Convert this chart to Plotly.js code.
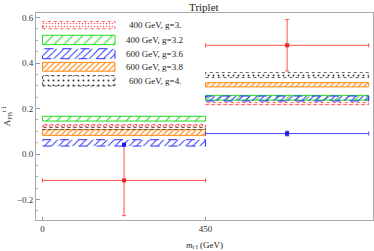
<!DOCTYPE html>
<html><head><meta charset="utf-8">
<script src="https://cdn.plot.ly/plotly-3.0.1.min.js"></script>
<style>html,body{margin:0;padding:0;background:#fff}#plot{width:374px;height:251px}</style>
</head><body><div id="plot"></div>
<script>
// Bins of m_tt (GeV)
const binEdges = [0, 450, 900];
const binCenters = [225, 675];
const binHalfWidths = [225, 225];

// Model predictions (low/high of band) per bin
const modelNames = ["400 GeV, g=3.", "400 GeV, g=3.2", "600 GeV, g=3.6", "600 GeV, g=3.8", "600 GeV, g=4."];
const bandLowBin1  = [0.119, 0.145, 0.035, 0.082, 0.108];
const bandHighBin1 = [0.130, 0.166, 0.063, 0.107, 0.117];
const bandLowBin2  = [0.217, 0.237, 0.233, 0.295, 0.336];
const bandHighBin2 = [0.226, 0.258, 0.255, 0.314, 0.358];

// Legend boxes
const legendX = [0, 200];
const legendLow  = [0.551, 0.481, 0.419, 0.364, 0.299];
const legendHigh = [0.583, 0.522, 0.463, 0.403, 0.345];
const legendLabelX = 310;

// Measurements
const redY = [-0.116, 0.478];
const redYErr = [0.155, 0.113];
const blueY = [0.041, 0.090];
const blueYErr = [0, 0.010];
const blueXErr = [0, 225];

const xTicks = [0, 450];

const styles = [
  {color:'#ff5a5a', shape:'.', size:3, sol:0.2, dash:'dot', w:1},
  {color:'#22dd22', shape:'/', size:7, sol:0.15, dash:'solid', w:1},
  {color:'#3030ff', shape:'/', size:5, sol:0.2, dash:'dash', w:1},
  {color:'#ff8c1a', shape:'/', size:4, sol:0.3, dash:'solid', w:1},
  {color:'#333333', shape:'.', size:5, sol:0.12, dash:'dot', w:0.8}
];

function rect(x0, x1, lo, hi) {
  return {x:[x0, x1, x1, x0, x0, null], y:[lo, lo, hi, hi, lo, null]};
}

const traces = [];
modelNames.forEach((name, i) => {
  const parts = [
    rect(legendX[0], legendX[1], legendLow[i], legendHigh[i]),
    rect(binEdges[0], binEdges[1], bandLowBin1[i], bandHighBin1[i]),
    rect(binEdges[1], binEdges[2], bandLowBin2[i], bandHighBin2[i])
  ];
  const s = styles[i];
  traces.push({
    type:'scatter', mode:'lines', name:name,
    x:[].concat(...parts.map(p=>p.x)),
    y:[].concat(...parts.map(p=>p.y)),
    fill:'toself', fillcolor:'rgba(0,0,0,0)',
    fillpattern:{shape:s.shape, fgcolor:s.color, bgcolor:'rgba(0,0,0,0)', size:s.size, solidity:s.sol},
    line:{color:s.color, width:s.w, dash:s.dash},
    hoverinfo:'skip', showlegend:false
  });
});

traces.push({
  type:'scatter', mode:'markers', x:binCenters, y:redY,
  marker:{symbol:'square', size:4, color:'#ee2222'},
  error_x:{type:'data', array:binHalfWidths, color:'#ff5050', thickness:1, width:2},
  error_y:{type:'data', array:redYErr, color:'#ff5050', thickness:1, width:2},
  showlegend:false
});
traces.push({
  type:'scatter', mode:'markers', x:binCenters, y:blueY,
  marker:{symbol:'square', size:4, color:'#1a1aee'},
  error_x:{type:'data', array:blueXErr, color:'#4a4aff', thickness:1, width:2},
  error_y:{type:'data', array:blueYErr, color:'#4a4aff', thickness:1, width:2},
  showlegend:false
});

const annotations = modelNames.map((name, i) => ({
  x:legendLabelX, y:(legendLow[i]+legendHigh[i])/2, xref:'x', yref:'y',
  text:name, showarrow:false, xanchor:'center', yanchor:'middle',
  font:{family:'Liberation Serif', size:9, color:'#222'}
}));

const layout = {
  width:374, height:251,
  margin:{l:36, r:1, t:13, b:31},
  paper_bgcolor:'#fff', plot_bgcolor:'#fff',
  font:{family:'Liberation Serif', size:9, color:'#333'},
  title:{text:'Triplet', x:0.545, xanchor:'center', y:0.985, yanchor:'top', font:{family:'Liberation Serif', size:11, color:'#222'}},
  xaxis:{range:[-18, 912], tickvals:xTicks, ticktext:xTicks.map(String), ticks:'inside', ticklen:3,
    tickcolor:'#999', showline:true, linecolor:'#aaa', mirror:true, showgrid:false, zeroline:false,
    title:{text:'<i>m</i><sub>t t̄</sub> (GeV)', standoff:8, font:{family:'Liberation Serif', size:9, color:'#222'}},
    tickfont:{family:'Liberation Serif', size:9, color:'#333'}},
  yaxis:{range:[-0.29, 0.62], dtick:0.2, tick0:0, tickformat:'.1f', ticks:'inside', ticklen:4,
    tickcolor:'#999', showline:true, linecolor:'#aaa', mirror:true, showgrid:false, zeroline:false,
    minor:{dtick:0.05, ticks:'inside', ticklen:2, tickcolor:'#aaa'},
    title:{text:'A<sub>FB</sub><sup>t t̄</sup>', standoff:6, font:{family:'Liberation Serif', size:9, color:'#222'}},
    tickfont:{family:'Liberation Serif', size:9, color:'#333'}},
  annotations:annotations,
  showlegend:false
};

Plotly.newPlot('plot', traces, layout, {displayModeBar:false, staticPlot:true});
</script></body></html>
